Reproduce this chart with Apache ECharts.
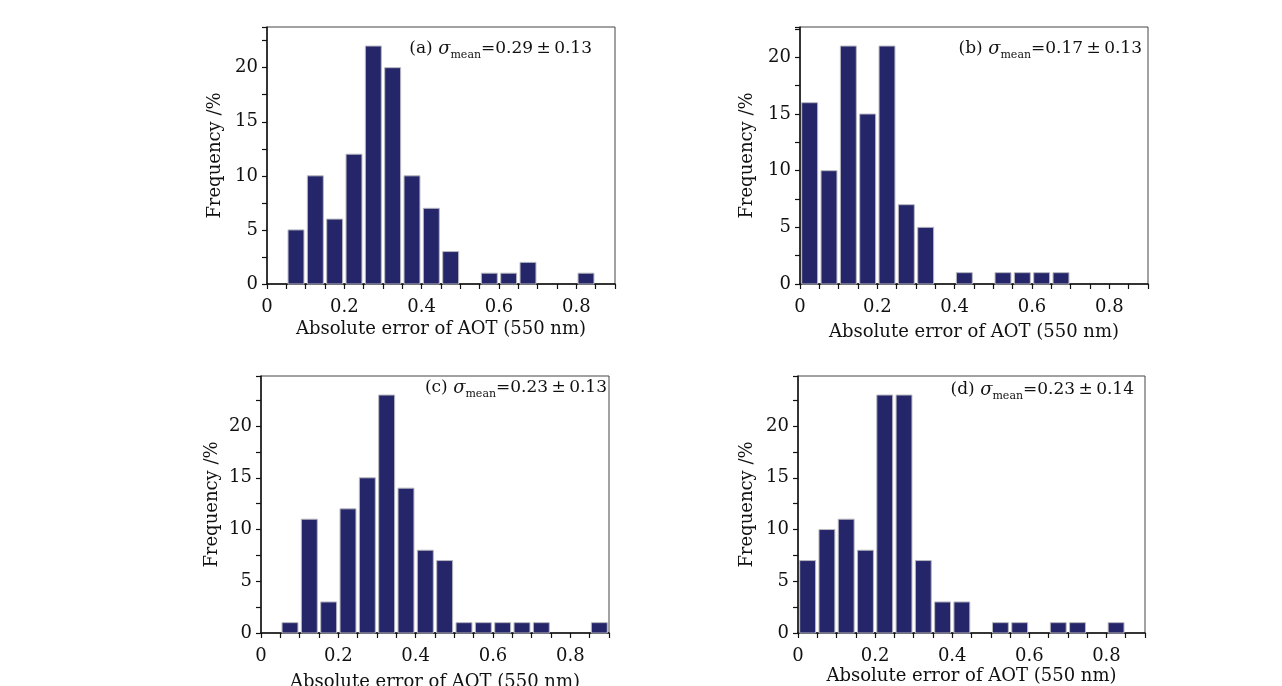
<!DOCTYPE html>
<html>
<head>
<meta charset="utf-8">
<script src="https://cdn.jsdelivr.net/npm/echarts@6/dist/echarts.min.js"></script>
<style>
html,body{margin:0;padding:0;background:#fff;}
#c{width:1282px;height:686px;}
</style>
</head>
<body>
<div id="c"></div>
<script>
// Bin start values (bin width 0.05)
const binStarts = [0, 0.05, 0.10, 0.15, 0.20, 0.25, 0.30, 0.35, 0.40, 0.45, 0.50, 0.55, 0.60, 0.65, 0.70, 0.75, 0.80, 0.85];
const binWidth = 0.05;
// Frequencies (%) per panel
const freqA = [0, 5, 10, 6, 12, 22, 20, 10, 7, 3, 0, 1, 1, 2, 0, 0, 1, 0];
const freqB = [16, 10, 21, 15, 21, 7, 5, 0, 1, 0, 1, 1, 1, 1, 0, 0, 0, 0];
const freqC = [0, 1, 11, 3, 12, 15, 23, 14, 8, 7, 1, 1, 1, 1, 1, 0, 0, 1];
const freqD = [7, 10, 11, 8, 23, 23, 7, 3, 3, 0, 1, 1, 0, 1, 1, 0, 1, 0];
// Axis ranges and labels
const xMax = 0.9;
const yMaxes = [23.76, 22.68, 24.84, 24.84];
const panelLetters = ['(a)', '(b)', '(c)', '(d)'];
const meanTexts = ['=0.29\u2009\u00B1\u20090.13', '=0.17\u2009\u00B1\u20090.13', '=0.23\u2009\u00B1\u20090.13', '=0.23\u2009\u00B1\u20090.14'];
const xName = 'Absolute error of AOT (550 nm)';
const yName = 'Frequency /%';

const FONT = 'DejaVu Serif';
const grids = [
  {left: 267, top: 27, width: 348, height: 257},
  {left: 800, top: 27, width: 348, height: 257},
  {left: 261, top: 376, width: 348, height: 257},
  {left: 798, top: 376, width: 347, height: 257}
];
const xNameGaps = [36, 39, 40, 34];
const yNameGaps = [43, 44, 40, 42];
const annRight = [690, 140, 675, 148];
const annTop = [37, 37, 376, 378];
const allFreq = [freqA, freqB, freqC, freqD];

const option = {
  backgroundColor: '#fff',
  animation: false,
  grid: grids.map(g => Object.assign({show: true, borderColor: '#444', borderWidth: 1, backgroundColor: 'transparent', containLabel: false, outerBoundsMode: 'none'}, g)),
  title: grids.map((g, i) => ({
    right: annRight[i], top: annTop[i], padding: 0,
    text: '{t|' + panelLetters[i] + ' }{s|\u03C3}{m|mean}{t|' + meanTexts[i] + '}',
    textStyle: {
      fontWeight: 'normal',
      rich: {
        t: {fontFamily: FONT, fontSize: 17, fontWeight: 'normal', color: '#111', lineHeight: 24, verticalAlign: 'middle'},
        s: {fontFamily: FONT, fontSize: 18, fontStyle: 'italic', fontWeight: 'normal', color: '#111', lineHeight: 24},
        m: {fontFamily: FONT, fontSize: 11, fontWeight: 'normal', color: '#111', lineHeight: 24, verticalAlign: 'bottom', padding: [9, 0, 0, 0]}
      }
    }
  })),
  xAxis: grids.map((g, i) => ({
    type: 'value', gridIndex: i, min: 0, max: xMax, interval: 0.05,
    name: xName, nameLocation: 'middle', nameGap: xNameGaps[i],
    nameTextStyle: {fontFamily: FONT, fontSize: 18, color: '#111'},
    axisLine: {show: true, onZero: false, lineStyle: {color: '#111', width: 1.5}},
    axisTick: {show: true, length: 5, lineStyle: {color: '#111', width: 1.2}},
    axisLabel: {
      fontFamily: FONT, fontSize: 18, color: '#111', margin: 14,
      formatter: v => {
        const k = Math.round(v * 100);
        if (k % 20 !== 0 || k > 80) return '';
        return k === 0 ? '0' : (k / 100).toFixed(1);
      }
    },
    splitLine: {show: false}
  })),
  yAxis: grids.map((g, i) => ({
    type: 'value', gridIndex: i, min: 0, max: yMaxes[i], interval: 2.5,
    name: yName, nameLocation: 'middle', nameGap: yNameGaps[i], nameRotate: 90,
    nameTextStyle: {fontFamily: FONT, fontSize: 18, color: '#111'},
    axisLine: {show: true, lineStyle: {color: '#111', width: 1.5}},
    axisTick: {show: true, length: 5, lineStyle: {color: '#111', width: 1.2}},
    axisLabel: {
      fontFamily: FONT, fontSize: 18, color: '#111', margin: 9,
      formatter: v => {
        const k = Math.round(v * 100);
        if (k % 500 !== 0) return '';
        return String(k / 100);
      }
    },
    splitLine: {show: false}
  })),
  series: allFreq.map((f, i) => ({
    type: 'custom', xAxisIndex: i, yAxisIndex: i,
    encode: {x: 0, y: 1},
    data: binStarts.map((b, j) => [b, f[j]]),
    renderItem: (params, api) => {
      const x0 = api.value(0), v = api.value(1);
      if (!v) return null;
      const p0 = api.coord([x0, v]);
      const p1 = api.coord([x0 + binWidth, 0]);
      return {
        type: 'rect',
        shape: {x: p0[0] + 1.7, y: p0[1], width: p1[0] - p0[0] - 3.4, height: p1[1] - p0[1]},
        style: {fill: '#25256a', stroke: '#b8b8c0', lineWidth: 1}
      };
    }
  }))
};
const chart = echarts.init(document.getElementById('c'), null, {renderer: 'canvas'});
chart.setOption(option);
</script>
</body>
</html>
